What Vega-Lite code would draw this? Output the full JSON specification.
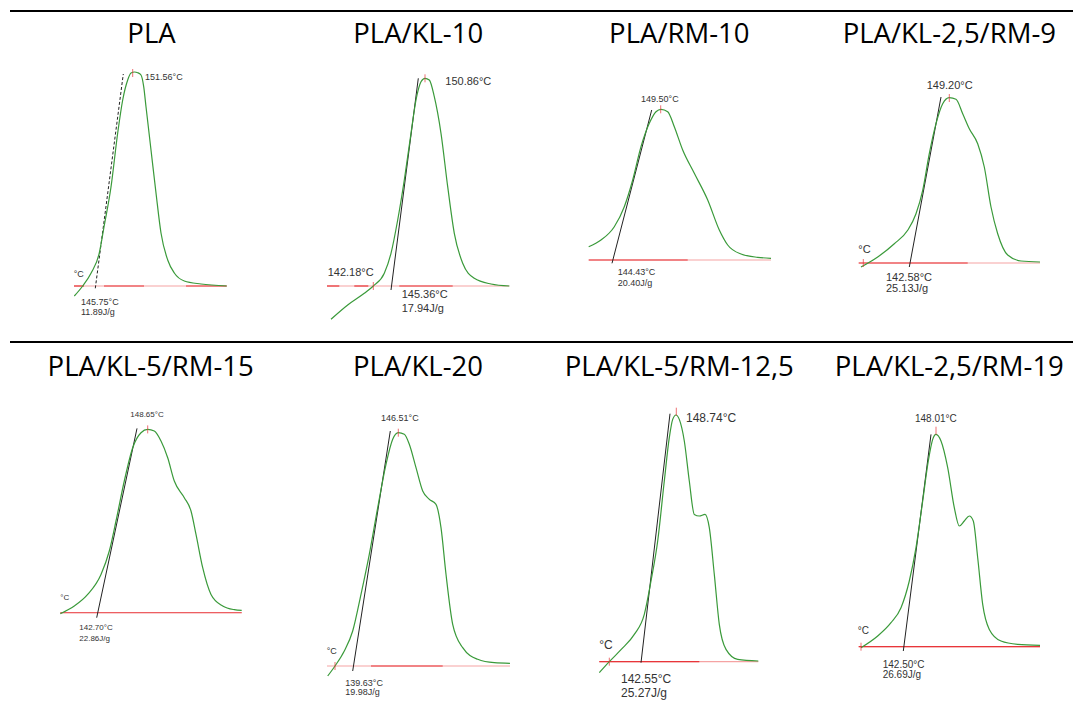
{
"$schema":"https://vega.github.io/schema/vega-lite/v6.json",
"padding":{"left":9,"top":10,"right":0,"bottom":0},
"spacing":0,
"config":{"view":{"stroke":null}},
"vconcat":[
{"hconcat":[
{"width":266,"height":330,
"data":{"values":[
{"k":"border","x":0,"x2":266,"y":275},
{"k":"title","x":141.5,"y":243,"t":"PLA"},
{"k":"base","x":64,"x2":216.7,"y":0},{"k":"red","x":64,"x2":74,"y":0},{"k":"red","x":94,"x2":134,"y":0},{"k":"red","x":176,"x2":216.7,"y":0},
{"k":"tan","x":85.3,"y":-2.3},{"k":"tan","x":113.3,"y":212},
{"k":"c","x":64.3,"y":-10},{"k":"c","x":72.7,"y":0},{"k":"c","x":81,"y":12.7},{"k":"c","x":89.3,"y":33},{"k":"c","x":94,"y":59},{"k":"c","x":101,"y":99},{"k":"c","x":107.7,"y":153},{"k":"c","x":112.7,"y":186},{"k":"c","x":117.7,"y":206},{"k":"c","x":121,"y":213},{"k":"c","x":124.5,"y":214},{"k":"c","x":127.7,"y":213.3},{"k":"c","x":131,"y":211},{"k":"c","x":133.7,"y":199.3},{"k":"c","x":136,"y":179.3},{"k":"c","x":141,"y":136},{"k":"c","x":146,"y":93},{"k":"c","x":151,"y":53},{"k":"c","x":157.7,"y":26},{"k":"c","x":164.3,"y":13},{"k":"c","x":174.3,"y":5},{"k":"c","x":191,"y":2},{"k":"c","x":216.7,"y":0},
{"k":"tick","x":122.7,"y":213},
{"k":"lab","x":135,"y":209.3,"t":"151.56°C"},{"k":"lab","x":71,"y":-16,"t":"145.75°C"},{"k":"lab","x":71,"y":-26.3,"t":"11.89J/g"},{"k":"lab","x":63.7,"y":12,"t":"°C"}
]},
"encoding":{"x":{"field":"x","type":"quantitative","scale":{"domain":[0,266],"nice":false},"axis":null},"y":{"field":"y","type":"quantitative","scale":{"domain":[-55,275],"nice":false},"axis":null}},
"layer":[
{"transform":[{"filter":{"field":"k","equal":"border"}}],"mark":{"type":"rule","color":"black","strokeWidth":2},"encoding":{"x2":{"field":"x2"}}},
{"transform":[{"filter":{"field":"k","oneOf":["base","red"]}}],"mark":{"type":"rule","strokeWidth":1.2},"encoding":{"x2":{"field":"x2"},"color":{"field":"k","type":"nominal","scale":{"domain":["base","red"],"range":["#f5a3a3","#e8363a"]},"legend":null}}},
{"transform":[{"filter":{"field":"k","equal":"tan"}}],"mark":{"type":"line","color":"#222","strokeWidth":1,"strokeDash":[3,2]}},
{"transform":[{"filter":{"field":"k","equal":"c"}}],"mark":{"type":"line","color":"#3a9a3a","strokeWidth":1.2,"interpolate":"monotone"}},
{"transform":[{"filter":{"field":"k","equal":"tick"}}],"mark":{"type":"point","shape":"M0,-1V1","filled":false,"color":"#e8363a","size":64,"strokeWidth":1}},
{"transform":[{"filter":{"field":"k","equal":"lab"}}],"mark":{"type":"text","align":"left","baseline":"middle","font":"Liberation Sans","fontSize":9,"color":"#333"},"encoding":{"text":{"field":"t"}}},
{"transform":[{"filter":{"field":"k","equal":"title"}}],"mark":{"type":"text","align":"center","baseline":"alphabetic","font":"Open Sans","fontSize":27.5,"color":"black"},"encoding":{"text":{"field":"t"}}}
]},
{"width":266,"height":330,
"data":{"values":[
{"k":"border","x":0,"x2":266,"y":275},
{"k":"title","x":142.2,"y":243,"t":"PLA/KL-10"},
{"k":"base","x":51,"x2":233.3,"y":0},{"k":"red","x":51,"x2":63.3,"y":0},{"k":"red","x":78.3,"x2":92.3,"y":0},{"k":"red","x":123.3,"x2":176.7,"y":0},
{"k":"tan","x":115,"y":-4},{"k":"tan","x":142.3,"y":207.7},
{"k":"c","x":55,"y":-33.3},{"k":"c","x":71.7,"y":-19},{"k":"c","x":88.3,"y":-7.3},{"k":"c","x":97.3,"y":0},{"k":"c","x":108.3,"y":12.7},{"k":"c","x":115,"y":32.7},{"k":"c","x":121.7,"y":66},{"k":"c","x":128.3,"y":106},{"k":"c","x":135,"y":152.7},{"k":"c","x":140,"y":186},{"k":"c","x":145,"y":204.3},{"k":"c","x":149,"y":207.7},{"k":"c","x":153.3,"y":206},{"k":"c","x":158.3,"y":189.3},{"k":"c","x":165,"y":152.7},{"k":"c","x":171.7,"y":99.3},{"k":"c","x":178.3,"y":52.7},{"k":"c","x":186.7,"y":22.7},{"k":"c","x":198.3,"y":7.7},{"k":"c","x":215,"y":2},{"k":"c","x":233.3,"y":0},
{"k":"tick","x":149,"y":207.7},{"k":"tick","x":97.3,"y":0},
{"k":"lab","x":169.3,"y":204.3,"t":"150.86°C"},{"k":"lab","x":51.7,"y":13.3,"t":"142.18°C"},{"k":"lab","x":125.7,"y":-9.3,"t":"145.36°C"},{"k":"lab","x":125.7,"y":-23.3,"t":"17.94J/g"}
]},
"encoding":{"x":{"field":"x","type":"quantitative","scale":{"domain":[0,266],"nice":false},"axis":null},"y":{"field":"y","type":"quantitative","scale":{"domain":[-55,275],"nice":false},"axis":null}},
"layer":[
{"transform":[{"filter":{"field":"k","equal":"border"}}],"mark":{"type":"rule","color":"black","strokeWidth":2},"encoding":{"x2":{"field":"x2"}}},
{"transform":[{"filter":{"field":"k","oneOf":["base","red"]}}],"mark":{"type":"rule","strokeWidth":1.2},"encoding":{"x2":{"field":"x2"},"color":{"field":"k","type":"nominal","scale":{"domain":["base","red"],"range":["#f5a3a3","#e8363a"]},"legend":null}}},
{"transform":[{"filter":{"field":"k","equal":"tan"}}],"mark":{"type":"line","color":"#222","strokeWidth":1}},
{"transform":[{"filter":{"field":"k","equal":"c"}}],"mark":{"type":"line","color":"#3a9a3a","strokeWidth":1.2,"interpolate":"monotone"}},
{"transform":[{"filter":{"field":"k","equal":"tick"}}],"mark":{"type":"point","shape":"M0,-1V1","filled":false,"color":"#e8363a","size":64,"strokeWidth":1}},
{"transform":[{"filter":{"field":"k","equal":"lab"}}],"mark":{"type":"text","align":"left","baseline":"middle","font":"Liberation Sans","fontSize":11,"color":"#333"},"encoding":{"text":{"field":"t"}}},
{"transform":[{"filter":{"field":"k","equal":"title"}}],"mark":{"type":"text","align":"center","baseline":"alphabetic","font":"Open Sans","fontSize":27.5,"color":"black"},"encoding":{"text":{"field":"t"}}}
]},
{"width":266,"height":330,
"data":{"values":[
{"k":"border","x":0,"x2":266,"y":249},
{"k":"title","x":137.3,"y":217,"t":"PLA/RM-10"},
{"k":"base","x":46.7,"x2":229,"y":0},{"k":"red","x":46.7,"x2":145.7,"y":0},
{"k":"tan","x":70,"y":-3.3},{"k":"tan","x":109.7,"y":150},
{"k":"c","x":46.7,"y":13.3},{"k":"c","x":59,"y":20},{"k":"c","x":72.3,"y":33.3},{"k":"c","x":82.3,"y":53.3},{"k":"c","x":90.7,"y":80},{"k":"c","x":99,"y":113.3},{"k":"c","x":107.3,"y":136.7},{"k":"c","x":114,"y":148.3},{"k":"c","x":119,"y":150.7},{"k":"c","x":125.7,"y":148.3},{"k":"c","x":132.3,"y":133.3},{"k":"c","x":140.7,"y":110},{"k":"c","x":152.3,"y":86.7},{"k":"c","x":165.7,"y":60},{"k":"c","x":177.3,"y":30},{"k":"c","x":185.7,"y":15},{"k":"c","x":199,"y":6},{"k":"c","x":215.7,"y":2.7},{"k":"c","x":229,"y":1.7},
{"k":"tick","x":118.7,"y":150.7},
{"k":"lab","x":99,"y":161,"t":"149.50°C"},{"k":"lab","x":75.7,"y":-11.7,"t":"144.43°C"},{"k":"lab","x":75.7,"y":-23.3,"t":"20.40J/g"}
]},
"encoding":{"x":{"field":"x","type":"quantitative","scale":{"domain":[0,266],"nice":false},"axis":null},"y":{"field":"y","type":"quantitative","scale":{"domain":[-81,249],"nice":false},"axis":null}},
"layer":[
{"transform":[{"filter":{"field":"k","equal":"border"}}],"mark":{"type":"rule","color":"black","strokeWidth":2},"encoding":{"x2":{"field":"x2"}}},
{"transform":[{"filter":{"field":"k","oneOf":["base","red"]}}],"mark":{"type":"rule","strokeWidth":1.2},"encoding":{"x2":{"field":"x2"},"color":{"field":"k","type":"nominal","scale":{"domain":["base","red"],"range":["#f5a3a3","#e8363a"]},"legend":null}}},
{"transform":[{"filter":{"field":"k","equal":"tan"}}],"mark":{"type":"line","color":"#222","strokeWidth":1}},
{"transform":[{"filter":{"field":"k","equal":"c"}}],"mark":{"type":"line","color":"#3a9a3a","strokeWidth":1.2,"interpolate":"monotone"}},
{"transform":[{"filter":{"field":"k","equal":"tick"}}],"mark":{"type":"point","shape":"M0,-1V1","filled":false,"color":"#e8363a","size":64,"strokeWidth":1}},
{"transform":[{"filter":{"field":"k","equal":"lab"}}],"mark":{"type":"text","align":"left","baseline":"middle","font":"Liberation Sans","fontSize":9,"color":"#333"},"encoding":{"text":{"field":"t"}}},
{"transform":[{"filter":{"field":"k","equal":"title"}}],"mark":{"type":"text","align":"center","baseline":"alphabetic","font":"Open Sans","fontSize":27.5,"color":"black"},"encoding":{"text":{"field":"t"}}}
]},
{"width":266,"height":330,
"data":{"values":[
{"k":"border","x":0,"x2":266,"y":252},
{"k":"title","x":141.3,"y":220,"t":"PLA/KL-2,5/RM-9"},
{"k":"base","x":50.7,"x2":232,"y":0},{"k":"red","x":50.7,"x2":159.7,"y":0},
{"k":"tan","x":101.3,"y":-4},{"k":"tan","x":133,"y":166},
{"k":"c","x":53,"y":-4},{"k":"c","x":69.7,"y":6},{"k":"c","x":86.3,"y":19.3},{"k":"c","x":99.7,"y":32.7},{"k":"c","x":108,"y":49.3},{"k":"c","x":114.7,"y":72.7},{"k":"c","x":121.3,"y":109.3},{"k":"c","x":128,"y":139.3},{"k":"c","x":134.7,"y":159.3},{"k":"c","x":141.3,"y":165.3},{"k":"c","x":148,"y":163.7},{"k":"c","x":154.7,"y":149.3},{"k":"c","x":161.3,"y":134.3},{"k":"c","x":169.7,"y":119.3},{"k":"c","x":176.3,"y":96},{"k":"c","x":183,"y":56},{"k":"c","x":189.7,"y":29.3},{"k":"c","x":199.7,"y":8},{"k":"c","x":213,"y":2},{"k":"c","x":232,"y":1},
{"k":"tick","x":141.3,"y":165},{"k":"tick","x":55.3,"y":0},
{"k":"lab","x":118.7,"y":177,"t":"149.20°C"},{"k":"lab","x":50.3,"y":13.3,"t":"°C"},{"k":"lab","x":78,"y":-14.7,"t":"142.58°C"},{"k":"lab","x":78,"y":-25.7,"t":"25.13J/g"}
]},
"encoding":{"x":{"field":"x","type":"quantitative","scale":{"domain":[0,266],"nice":false},"axis":null},"y":{"field":"y","type":"quantitative","scale":{"domain":[-78,252],"nice":false},"axis":null}},
"layer":[
{"transform":[{"filter":{"field":"k","equal":"border"}}],"mark":{"type":"rule","color":"black","strokeWidth":2},"encoding":{"x2":{"field":"x2"}}},
{"transform":[{"filter":{"field":"k","oneOf":["base","red"]}}],"mark":{"type":"rule","strokeWidth":1.2},"encoding":{"x2":{"field":"x2"},"color":{"field":"k","type":"nominal","scale":{"domain":["base","red"],"range":["#f5a3a3","#e8363a"]},"legend":null}}},
{"transform":[{"filter":{"field":"k","equal":"tan"}}],"mark":{"type":"line","color":"#222","strokeWidth":1}},
{"transform":[{"filter":{"field":"k","equal":"c"}}],"mark":{"type":"line","color":"#3a9a3a","strokeWidth":1.2,"interpolate":"monotone"}},
{"transform":[{"filter":{"field":"k","equal":"tick"}}],"mark":{"type":"point","shape":"M0,-1V1","filled":false,"color":"#e8363a","size":64,"strokeWidth":1}},
{"transform":[{"filter":{"field":"k","equal":"lab"}}],"mark":{"type":"text","align":"left","baseline":"middle","font":"Liberation Sans","fontSize":11,"color":"#333"},"encoding":{"text":{"field":"t"}}},
{"transform":[{"filter":{"field":"k","equal":"title"}}],"mark":{"type":"text","align":"center","baseline":"alphabetic","font":"Open Sans","fontSize":27.5,"color":"black"},"encoding":{"text":{"field":"t"}}}
]}
],"spacing":0,"bounds":"flush"},
{"hconcat":[
{"width":266,"height":372,
"data":{"values":[
{"k":"border","x":0,"x2":266,"y":270.7},
{"k":"title","x":140.7,"y":236.7,"t":"PLA/KL-5/RM-15"},
{"k":"base","x":50.3,"x2":231.7,"y":0},{"k":"red","x":50.3,"x2":231.7,"y":0.01},
{"k":"tan","x":86.7,"y":-5},{"k":"tan","x":127,"y":184.3},
{"k":"c","x":50.3,"y":-1},{"k":"c","x":64.3,"y":6.7},{"k":"c","x":77.7,"y":18.3},{"k":"c","x":91,"y":38.3},{"k":"c","x":99.3,"y":61.7},{"k":"c","x":106,"y":91.7},{"k":"c","x":114.3,"y":131.7},{"k":"c","x":122.7,"y":165},{"k":"c","x":131,"y":180},{"k":"c","x":137.7,"y":183.3},{"k":"c","x":144.3,"y":181.7},{"k":"c","x":151,"y":171.7},{"k":"c","x":157.7,"y":155},{"k":"c","x":164.3,"y":131.7},{"k":"c","x":174.3,"y":115},{"k":"c","x":181,"y":101.7},{"k":"c","x":186,"y":78.3},{"k":"c","x":192.7,"y":45},{"k":"c","x":201,"y":18.3},{"k":"c","x":212.7,"y":6.7},{"k":"c","x":224.3,"y":3},{"k":"c","x":231.7,"y":2.3},
{"k":"tick","x":137.7,"y":183.3},
{"k":"lab","x":120.3,"y":197.7,"t":"148.65°C"},{"k":"lab","x":50.3,"y":14.3,"t":"°C"},{"k":"lab","x":69.3,"y":-15.7,"t":"142.70°C"},{"k":"lab","x":69.3,"y":-26,"t":"22.86J/g"}
]},
"encoding":{"x":{"field":"x","type":"quantitative","scale":{"domain":[0,266],"nice":false},"axis":null},"y":{"field":"y","type":"quantitative","scale":{"domain":[-101.3,270.7],"nice":false},"axis":null}},
"layer":[
{"transform":[{"filter":{"field":"k","equal":"border"}}],"mark":{"type":"rule","color":"black","strokeWidth":2},"encoding":{"x2":{"field":"x2"}}},
{"transform":[{"filter":{"field":"k","oneOf":["base","red"]}}],"mark":{"type":"rule","strokeWidth":1.2,"opacity":0.7},"encoding":{"x2":{"field":"x2"},"color":{"field":"k","type":"nominal","scale":{"domain":["base","red"],"range":["#f5a3a3","#e8363a"]},"legend":null}}},
{"transform":[{"filter":{"field":"k","equal":"tan"}}],"mark":{"type":"line","color":"#222","strokeWidth":1}},
{"transform":[{"filter":{"field":"k","equal":"c"}}],"mark":{"type":"line","color":"#3a9a3a","strokeWidth":1.2,"interpolate":"monotone"}},
{"transform":[{"filter":{"field":"k","equal":"tick"}}],"mark":{"type":"point","shape":"M0,-1V1","filled":false,"color":"#e8363a","size":64,"strokeWidth":1}},
{"transform":[{"filter":{"field":"k","equal":"lab"}}],"mark":{"type":"text","align":"left","baseline":"middle","font":"Liberation Sans","fontSize":8,"color":"#333"},"encoding":{"text":{"field":"t"}}},
{"transform":[{"filter":{"field":"k","equal":"title"}}],"mark":{"type":"text","align":"center","baseline":"alphabetic","font":"Open Sans","fontSize":27.5,"color":"black"},"encoding":{"text":{"field":"t"}}}
]},
{"width":266,"height":372,
"data":{"values":[
{"k":"border","x":0,"x2":266,"y":324},
{"k":"title","x":142,"y":290,"t":"PLA/KL-20"},
{"k":"base","x":51,"x2":234,"y":0},{"k":"red","x":95,"x2":166.7,"y":0},
{"k":"tan","x":76.7,"y":-5},{"k":"tan","x":114.3,"y":235},
{"k":"c","x":51.7,"y":-10},{"k":"c","x":59,"y":0},{"k":"c","x":68.3,"y":15},{"k":"c","x":76.7,"y":35},{"k":"c","x":85,"y":71.7},{"k":"c","x":93.3,"y":111.7},{"k":"c","x":101.7,"y":158.3},{"k":"c","x":110,"y":201.7},{"k":"c","x":116.7,"y":226.7},{"k":"c","x":122.3,"y":233.3},{"k":"c","x":128.3,"y":231.7},{"k":"c","x":133.3,"y":221.7},{"k":"c","x":140,"y":198.3},{"k":"c","x":146.7,"y":175},{"k":"c","x":153.3,"y":166.7},{"k":"c","x":160,"y":161.7},{"k":"c","x":165,"y":138.3},{"k":"c","x":170,"y":91.7},{"k":"c","x":176.7,"y":41.7},{"k":"c","x":186.7,"y":18.3},{"k":"c","x":201.7,"y":6.7},{"k":"c","x":218.3,"y":3.3},{"k":"c","x":234,"y":2.7},
{"k":"tick","x":122.3,"y":233.3},{"k":"tick","x":59,"y":0},
{"k":"lab","x":105,"y":248.3,"t":"146.51°C"},{"k":"lab","x":50.7,"y":15,"t":"°C"},{"k":"lab","x":69.3,"y":-16.7,"t":"139.63°C"},{"k":"lab","x":69.3,"y":-25.7,"t":"19.98J/g"}
]},
"encoding":{"x":{"field":"x","type":"quantitative","scale":{"domain":[0,266],"nice":false},"axis":null},"y":{"field":"y","type":"quantitative","scale":{"domain":[-48,324],"nice":false},"axis":null}},
"layer":[
{"transform":[{"filter":{"field":"k","equal":"border"}}],"mark":{"type":"rule","color":"black","strokeWidth":2},"encoding":{"x2":{"field":"x2"}}},
{"transform":[{"filter":{"field":"k","oneOf":["base","red"]}}],"mark":{"type":"rule","strokeWidth":1.2},"encoding":{"x2":{"field":"x2"},"color":{"field":"k","type":"nominal","scale":{"domain":["base","red"],"range":["#f5a3a3","#e8363a"]},"legend":null}}},
{"transform":[{"filter":{"field":"k","equal":"tan"}}],"mark":{"type":"line","color":"#222","strokeWidth":1}},
{"transform":[{"filter":{"field":"k","equal":"c"}}],"mark":{"type":"line","color":"#3a9a3a","strokeWidth":1.2,"interpolate":"monotone"}},
{"transform":[{"filter":{"field":"k","equal":"tick"}}],"mark":{"type":"point","shape":"M0,-1V1","filled":false,"color":"#e8363a","size":64,"strokeWidth":1}},
{"transform":[{"filter":{"field":"k","equal":"lab"}}],"mark":{"type":"text","align":"left","baseline":"middle","font":"Liberation Sans","fontSize":9,"color":"#333"},"encoding":{"text":{"field":"t"}}},
{"transform":[{"filter":{"field":"k","equal":"title"}}],"mark":{"type":"text","align":"center","baseline":"alphabetic","font":"Open Sans","fontSize":27.5,"color":"black"},"encoding":{"text":{"field":"t"}}}
]},
{"width":266,"height":372,
"data":{"values":[
{"k":"border","x":0,"x2":266,"y":319.7},
{"k":"title","x":137.3,"y":285.7,"t":"PLA/KL-5/RM-12,5"},
{"k":"base","x":57.3,"x2":216.3,"y":0},{"k":"red","x":57.3,"x2":157.3,"y":0},
{"k":"tan","x":99,"y":-1},{"k":"tan","x":128,"y":248},
{"k":"c","x":57.3,"y":-11},{"k":"c","x":67.3,"y":0},{"k":"c","x":79,"y":12},{"k":"c","x":92.3,"y":27.3},{"k":"c","x":102.3,"y":47.3},{"k":"c","x":109,"y":80.7},{"k":"c","x":115.7,"y":120.7},{"k":"c","x":122.3,"y":180.7},{"k":"c","x":127.3,"y":224},{"k":"c","x":130.7,"y":242.3},{"k":"c","x":134,"y":246.7},{"k":"c","x":137.3,"y":242.3},{"k":"c","x":142.3,"y":220.7},{"k":"c","x":147.3,"y":180.7},{"k":"c","x":152.3,"y":147.3},{"k":"c","x":157.3,"y":145.7},{"k":"c","x":163,"y":147.3},{"k":"c","x":167.3,"y":134},{"k":"c","x":172.3,"y":87.3},{"k":"c","x":177.3,"y":37.3},{"k":"c","x":184,"y":12.3},{"k":"c","x":195.7,"y":2.3},{"k":"c","x":216.3,"y":0.7},
{"k":"tick","x":134.3,"y":250},{"k":"tick","x":67.3,"y":0},
{"k":"lab","x":144,"y":244,"t":"148.74°C"},{"k":"lab","x":57.3,"y":16.7,"t":"°C"},{"k":"lab","x":79,"y":-17.7,"t":"142.55°C"},{"k":"lab","x":79,"y":-31,"t":"25.27J/g"}
]},
"encoding":{"x":{"field":"x","type":"quantitative","scale":{"domain":[0,266],"nice":false},"axis":null},"y":{"field":"y","type":"quantitative","scale":{"domain":[-52.3,319.7],"nice":false},"axis":null}},
"layer":[
{"transform":[{"filter":{"field":"k","equal":"border"}}],"mark":{"type":"rule","color":"black","strokeWidth":2},"encoding":{"x2":{"field":"x2"}}},
{"transform":[{"filter":{"field":"k","oneOf":["base","red"]}}],"mark":{"type":"rule","strokeWidth":1.2},"encoding":{"x2":{"field":"x2"},"color":{"field":"k","type":"nominal","scale":{"domain":["base","red"],"range":["#f5a3a3","#e8363a"]},"legend":null}}},
{"transform":[{"filter":{"field":"k","equal":"tan"}}],"mark":{"type":"line","color":"#222","strokeWidth":1}},
{"transform":[{"filter":{"field":"k","equal":"c"}}],"mark":{"type":"line","color":"#3a9a3a","strokeWidth":1.2,"interpolate":"monotone"}},
{"transform":[{"filter":{"field":"k","equal":"tick"}}],"mark":{"type":"point","shape":"M0,-1V1","filled":false,"color":"#e8363a","size":64,"strokeWidth":1}},
{"transform":[{"filter":{"field":"k","equal":"lab"}}],"mark":{"type":"text","align":"left","baseline":"middle","font":"Liberation Sans","fontSize":12,"color":"#333"},"encoding":{"text":{"field":"t"}}},
{"transform":[{"filter":{"field":"k","equal":"title"}}],"mark":{"type":"text","align":"center","baseline":"alphabetic","font":"Open Sans","fontSize":27.5,"color":"black"},"encoding":{"text":{"field":"t"}}}
]},
{"width":266,"height":372,
"data":{"values":[
{"k":"border","x":0,"x2":266,"y":304.7},
{"k":"title","x":141.3,"y":270.7,"t":"PLA/KL-2,5/RM-19"},
{"k":"base","x":50.7,"x2":232,"y":0},{"k":"red","x":50.7,"x2":232,"y":0},
{"k":"tan","x":95.3,"y":-4.3},{"k":"tan","x":123,"y":212.3},
{"k":"c","x":53,"y":-1},{"k":"c","x":69.7,"y":10.7},{"k":"c","x":83,"y":24},{"k":"c","x":93,"y":39},{"k":"c","x":101.3,"y":65.7},{"k":"c","x":108,"y":99},{"k":"c","x":114.7,"y":145.7},{"k":"c","x":120.3,"y":185.7},{"k":"c","x":124.7,"y":207.3},{"k":"c","x":128,"y":212.3},{"k":"c","x":133,"y":205.7},{"k":"c","x":139.7,"y":179},{"k":"c","x":146.3,"y":139},{"k":"c","x":151.3,"y":120.7},{"k":"c","x":156.3,"y":125.7},{"k":"c","x":161.3,"y":130.7},{"k":"c","x":165.3,"y":125.7},{"k":"c","x":169.7,"y":89},{"k":"c","x":174.7,"y":42.3},{"k":"c","x":181.3,"y":17.3},{"k":"c","x":193,"y":5.7},{"k":"c","x":209.7,"y":2.3},{"k":"c","x":232,"y":1.3},
{"k":"tick","x":128,"y":216},{"k":"tick","x":53,"y":0},
{"k":"lab","x":107,"y":228,"t":"148.01°C"},{"k":"lab","x":49.7,"y":15.7,"t":"°C"},{"k":"lab","x":74.7,"y":-18.3,"t":"142.50°C"},{"k":"lab","x":74.7,"y":-28.3,"t":"26.69J/g"}
]},
"encoding":{"x":{"field":"x","type":"quantitative","scale":{"domain":[0,266],"nice":false},"axis":null},"y":{"field":"y","type":"quantitative","scale":{"domain":[-67.3,304.7],"nice":false},"axis":null}},
"layer":[
{"transform":[{"filter":{"field":"k","equal":"border"}}],"mark":{"type":"rule","color":"black","strokeWidth":2},"encoding":{"x2":{"field":"x2"}}},
{"transform":[{"filter":{"field":"k","oneOf":["base","red"]}}],"mark":{"type":"rule","strokeWidth":1.2},"encoding":{"x2":{"field":"x2"},"color":{"field":"k","type":"nominal","scale":{"domain":["base","red"],"range":["#f5a3a3","#e8363a"]},"legend":null}}},
{"transform":[{"filter":{"field":"k","equal":"tan"}}],"mark":{"type":"line","color":"#222","strokeWidth":1}},
{"transform":[{"filter":{"field":"k","equal":"c"}}],"mark":{"type":"line","color":"#3a9a3a","strokeWidth":1.2,"interpolate":"monotone"}},
{"transform":[{"filter":{"field":"k","equal":"tick"}}],"mark":{"type":"point","shape":"M0,-1V1","filled":false,"color":"#e8363a","size":64,"strokeWidth":1}},
{"transform":[{"filter":{"field":"k","equal":"lab"}}],"mark":{"type":"text","align":"left","baseline":"middle","font":"Liberation Sans","fontSize":10,"color":"#333"},"encoding":{"text":{"field":"t"}}},
{"transform":[{"filter":{"field":"k","equal":"title"}}],"mark":{"type":"text","align":"center","baseline":"alphabetic","font":"Open Sans","fontSize":27.5,"color":"black"},"encoding":{"text":{"field":"t"}}}
]}
],"spacing":0,"bounds":"flush"}
]
}
